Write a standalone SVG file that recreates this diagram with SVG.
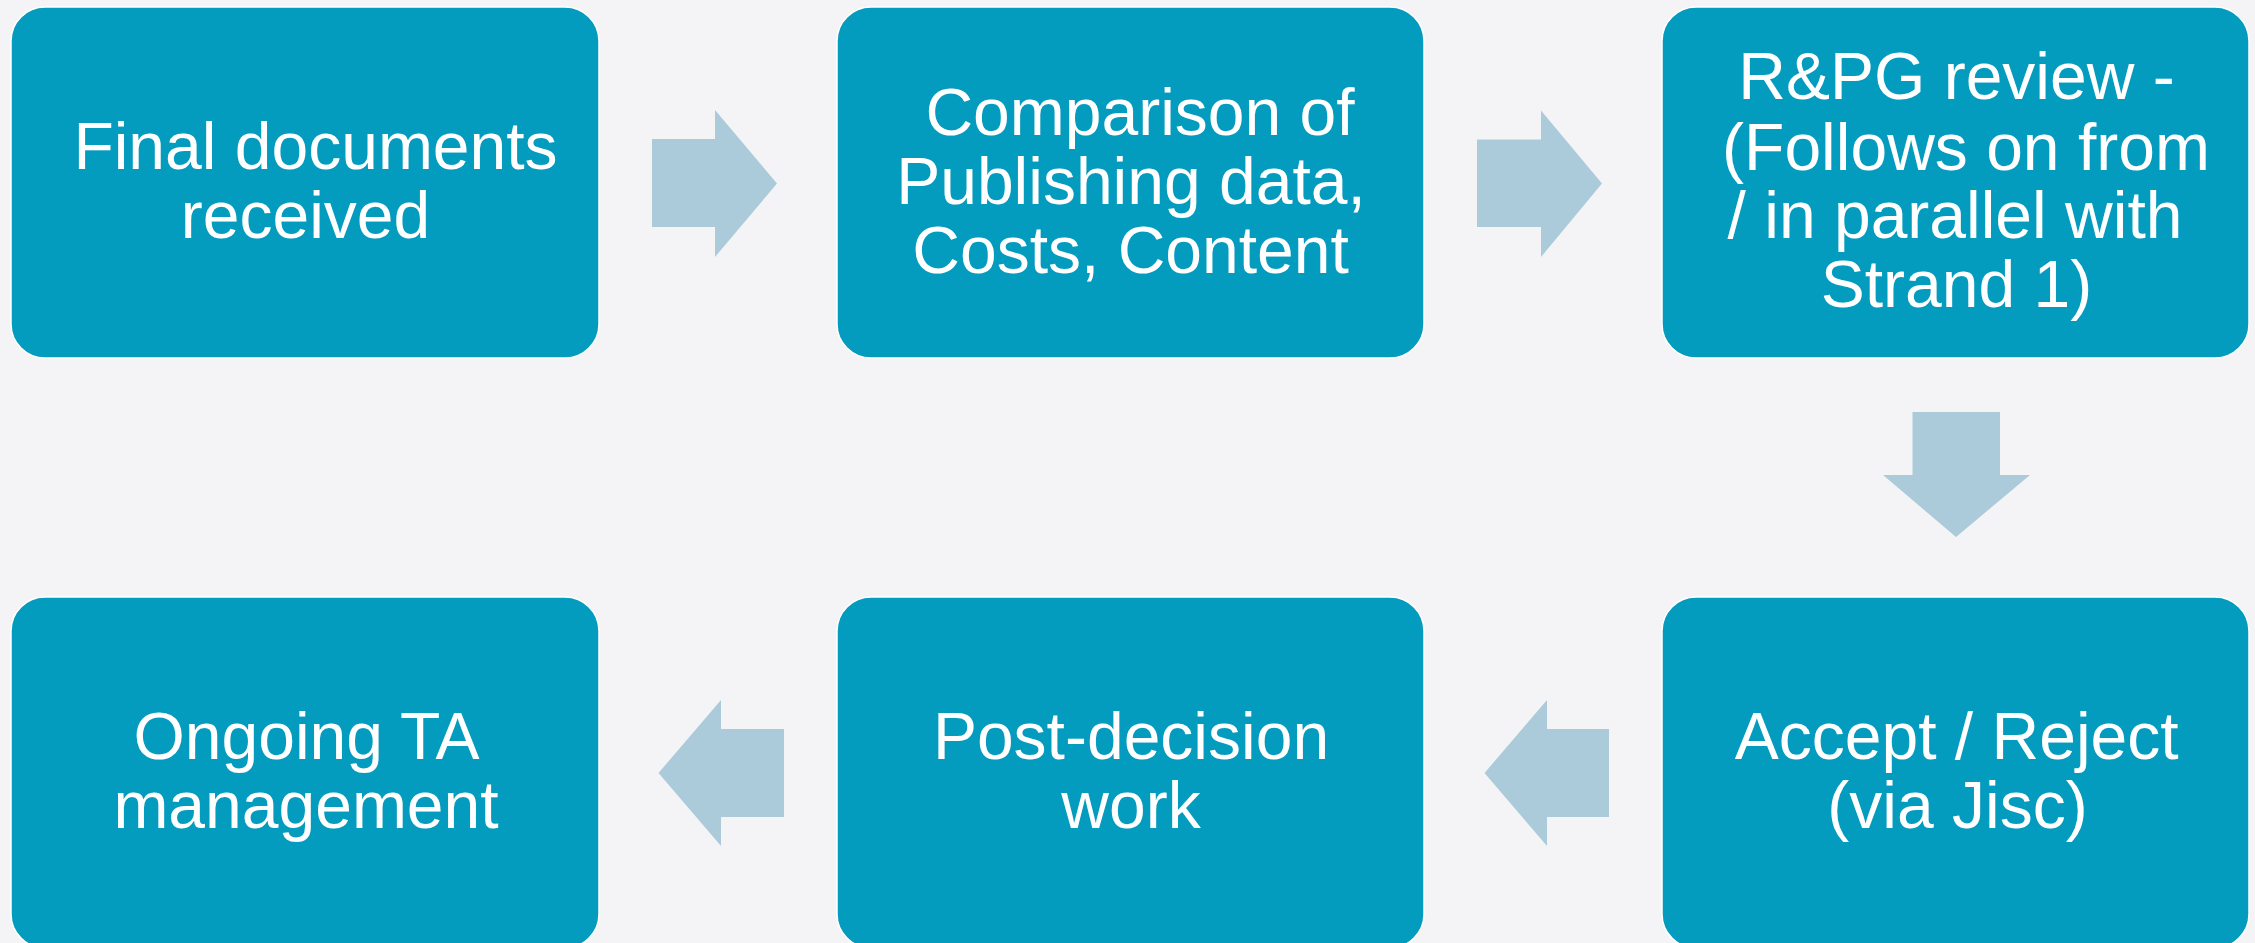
<svg xmlns="http://www.w3.org/2000/svg" width="2255" height="943" viewBox="0 0 2255 943">
<style>
.box{fill:#039BBE;stroke:#FFFFFF;stroke-width:1.5}
.arr{fill:#ABCBDB}
.t{font-family:"Liberation Sans",Arial,sans-serif;font-size:66px;fill:#FFFFFF;text-anchor:middle}
</style>
<rect x="0" y="0" width="2255" height="943" fill="#F4F4F6"/>
<g id="connectors">
<polygon class="arr" points="652,139 715,139 715,110 777,183.5 715,257 715,227 652,227"/>
<polygon class="arr" points="1477,139.5 1541,139.5 1541,110.5 1602,183.5 1541,257 1541,227 1477,227"/>
<polygon class="arr" points="1912.5,412 2000,412 2000,475 2030,475 1956,537 1883,475 1912.5,475"/>
<polygon class="arr" points="1609,729 1547,729 1547,700 1484.5,773 1547,846 1547,817 1609,817"/>
<polygon class="arr" points="784,729 721,729 721,700 658.5,773 721,846 721,817 784,817"/>
</g>
<g id="node1">
<rect class="box" x="11" y="7" width="588" height="351" rx="34" ry="34"/>
<text class="t"><tspan x="315.5" y="169.3">Final documents</tspan><tspan x="305.5" y="238.3">received</tspan></text>
</g>
<g id="node2">
<rect class="box" x="837" y="7" width="587" height="351" rx="34" ry="34"/>
<text class="t"><tspan x="1140" y="135">Comparison of</tspan><tspan x="1131" y="204">Publishing data,</tspan><tspan x="1130.6" y="272.7">Costs, Content</tspan></text>
</g>
<g id="node3">
<rect class="box" x="1662" y="7" width="587" height="351" rx="34" ry="34"/>
<text class="t"><tspan x="1956.5" y="99.2">R&amp;PG review -</tspan><tspan x="1966" y="169.6">(Follows on from</tspan><tspan x="1955" y="238">/ in parallel with</tspan><tspan x="1956.5" y="306.7">Strand 1)</tspan></text>
</g>
<g id="node4">
<rect class="box" x="11" y="597" width="588" height="351" rx="34" ry="34"/>
<text class="t"><tspan x="306.5" y="759">Ongoing TA</tspan><tspan x="306" y="828">management</tspan></text>
</g>
<g id="node5">
<rect class="box" x="837" y="597" width="587" height="351" rx="34" ry="34"/>
<text class="t"><tspan x="1131" y="759">Post-decision</tspan><tspan x="1131" y="827.7">work</tspan></text>
</g>
<g id="node6">
<rect class="box" x="1662" y="597" width="587" height="351" rx="34" ry="34"/>
<text class="t"><tspan x="1956.7" y="759">Accept / Reject</tspan><tspan x="1957.5" y="828">(via Jisc)</tspan></text>
</g>
</svg>
